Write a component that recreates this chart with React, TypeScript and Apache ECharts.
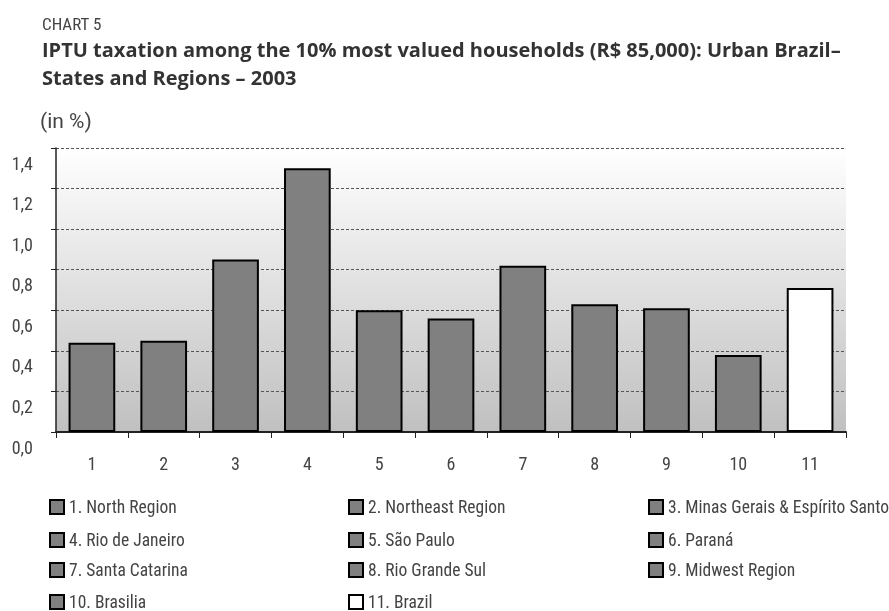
import React, { useEffect, useRef } from "react";
import * as echarts from "echarts";

const categories = ["1", "2", "3", "4", "5", "6", "7", "8", "9", "10", "11"];
const seriesNames = [
  "1. North Region",
  "2. Northeast Region",
  "3. Minas Gerais & Espírito Santo",
  "4. Rio de Janeiro",
  "5. São Paulo",
  "6. Paraná",
  "7. Santa Catarina",
  "8. Rio Grande Sul",
  "9. Midwest Region",
  "10. Brasilia",
  "11. Brazil",
];
const values = [0.44, 0.45, 0.85, 1.3, 0.6, 0.56, 0.82, 0.63, 0.61, 0.38, 0.71];
const yTicks = { min: 0, max: 1.4, interval: 0.2 };

const chartLabel = "CHART 5";
const titleLine1 =
  "IPTU taxation among the 10% most valued households (R$ 85,000): Urban Brazil–";
const titleLine2 = "States and Regions – 2003";
const unitLabel = "(in %)";

const NARROW = "'Liberation Sans Narrow', 'Arial Narrow', 'Roboto Condensed', sans-serif";
const BOLD = "'Open Sans', 'Noto Sans', sans-serif";

const legendColX = [49, 348, 648];
const legendRowY = [507, 540, 570, 602];

export default function App() {
  const ref = useRef<HTMLDivElement>(null);
  useEffect(() => {
    if (!ref.current) return;
    const chart = echarts.init(ref.current, null, { renderer: "svg" });
    const series = seriesNames.map((name, i) => ({
      name,
      type: "bar",
      stack: "all",
      barWidth: "65%",
      data: values.map((v, j) => (j === i ? v : "-")),
      itemStyle: {
        color: i === seriesNames.length - 1 ? "#ffffff" : "#808080",
        borderColor: "#000000",
        borderWidth: 2,
      },
      emphasis: { disabled: true },
    }));
    const legends = seriesNames.map((name, i) => ({
      orient: "horizontal",
      left: legendColX[i % 3],
      top: legendRowY[Math.floor(i / 3)] - 9,
      padding: 0,
      itemWidth: 14,
      itemHeight: 14,
      icon: "rect",
      selectedMode: false,
      itemStyle: { borderWidth: 2, borderColor: "#000" },
      textStyle: {
        fontFamily: NARROW,
        fontSize: 17.5,
        color: "#444",
      },
      data: [name],
    }));
    chart.setOption({
      animation: false,
      grid: {
        left: 56,
        right: 43,
        top: 148,
        bottom: 179,
        show: true,
        borderWidth: 0,
        backgroundColor: new echarts.graphic.LinearGradient(0, 0, 0, 1, [
          { offset: 0, color: "#ffffff" },
          { offset: 1, color: "#c0c0c0" },
        ]),
      },
      legend: legends,
      xAxis: {
        type: "category",
        data: categories,
        axisLine: { lineStyle: { color: "#222", width: 2 } },
        axisTick: { show: true, length: 6, lineStyle: { color: "#222", width: 1 } },
        axisLabel: {
          margin: 22,
          fontFamily: NARROW,
          fontSize: 18,
          color: "#444",
        },
      },
      yAxis: {
        type: "value",
        min: yTicks.min,
        max: yTicks.max,
        interval: yTicks.interval,
        axisLine: { show: true, lineStyle: { color: "#222", width: 1.5 } },
        axisTick: { show: true, length: 5, lineStyle: { color: "#222" } },
        axisLabel: {
          margin: 23,
          fontFamily: NARROW,
          fontSize: 18,
          color: "#444",
          verticalAlign: "top",
          padding: [6, 0, 0, 0],
          formatter: (v: number) => v.toFixed(1).replace(".", ","),
        },
        splitLine: {
          show: true,
          lineStyle: { color: "#555", type: [3, 2], width: 1 },
        },
      },
      graphic: [
        {
          type: "text",
          left: 42,
          top: 15,
          style: { text: chartLabel, fontFamily: NARROW, fontSize: 17, fill: "#444" },
        },
        {
          type: "text",
          left: 42,
          top: 35,
          style: {
            text: titleLine1 + "\n" + titleLine2,
            fontFamily: BOLD,
            fontWeight: "bold",
            fontSize: 20,
            lineHeight: 28,
            fill: "#333",
          },
        },
        {
          type: "text",
          left: 40,
          top: 110,
          style: { text: unitLabel, fontFamily: "Roboto, sans-serif", fontSize: 21, fill: "#444" },
        },
      ],
      series,
    });
    return () => chart.dispose();
  }, []);
  return (
    <div
      ref={ref}
      style={{ position: "fixed", left: 0, top: 0, width: 889, height: 611 }}
    />
  );
}
